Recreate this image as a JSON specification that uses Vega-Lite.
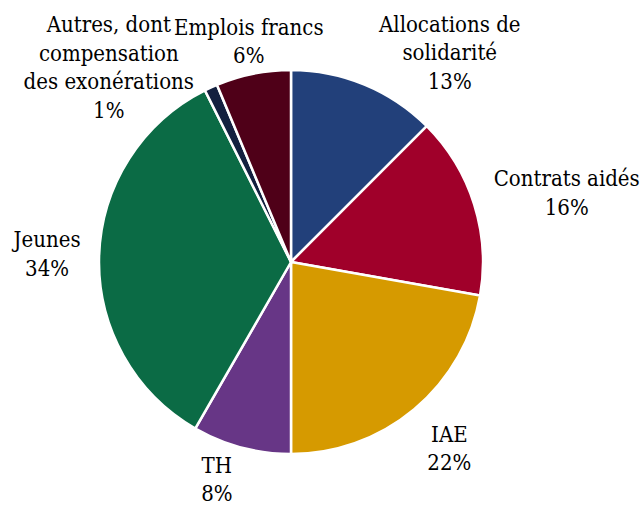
{
  "$schema": "https://vega.github.io/schema/vega-lite/v6.json",
  "autosize": "none",
  "width": 582,
  "height": 490,
  "padding": {"left": 0, "top": 17, "right": 60, "bottom": 0},
  "background": "white",
  "config": {"view": {"stroke": null}, "text": {"font": "DejaVu Serif Condensed", "fontSize": 22, "lineBreak": "\n", "lineHeight": 28.5, "color": "#000", "baseline": "middle", "align": "center", "radius": 245}},
  "data": {
    "values": [
      {"cat": "Allocations de solidarité", "label": "Allocations de\nsolidarité\n13%", "value": 12.5, "order": 1},
      {"cat": "Contrats aidés", "label": "Contrats aidés\n16%", "value": 15.3, "order": 2},
      {"cat": "IAE", "label": "IAE\n22%", "value": 22.2, "order": 3},
      {"cat": "TH", "label": "TH\n8%", "value": 8.3, "order": 4},
      {"cat": "Jeunes", "label": "Jeunes\n34%", "value": 34.3, "order": 5},
      {"cat": "Autres", "label": "Autres, dont\ncompensation\ndes exonérations\n1%", "value": 1.1, "order": 6},
      {"cat": "Emplois francs", "label": "Emplois francs\n6%", "value": 6.3, "order": 7}
    ]
  },
  "transform": [
    {"stack": "value", "groupby": [], "sort": [{"field": "order"}], "as": ["v0", "v1"]},
    {"calculate": "(datum.v0 + datum.v1) / 2", "as": "mid"}
  ],
  "layer": [
    {
      "mark": {"type": "arc", "outerRadius": 192, "stroke": "white", "strokeWidth": 2.5},
      "encoding": {
        "theta": {"field": "v0", "type": "quantitative", "scale": {"domain": [0, 100]}, "stack": null},
        "theta2": {"field": "v1"},
        "color": {
          "field": "cat", "type": "nominal", "legend": null,
          "scale": {
            "domain": ["Allocations de solidarité", "Contrats aidés", "IAE", "TH", "Jeunes", "Autres", "Emplois francs"],
            "range": ["#22407A", "#A0002A", "#D69A00", "#673686", "#0B6B45", "#13203F", "#4F0018"]
          }
        }
      }
    },
    {
      "transform": [{"filter": "datum.cat == 'IAE' || datum.cat == 'Jeunes'"}],
      "mark": {"type": "text", "dx": 1, "dy": -15},
      "encoding": {"theta": {"field": "mid", "type": "quantitative", "stack": null}, "text": {"field": "label"}}
    },
    {
      "transform": [{"filter": "datum.cat == 'Contrats aidés'"}],
      "mark": {"type": "text", "dx": 42, "dy": -9},
      "encoding": {"theta": {"field": "mid", "type": "quantitative", "stack": null}, "text": {"field": "label"}}
    },
    {
      "transform": [{"filter": "datum.cat == 'Allocations de solidarité'"}],
      "mark": {"type": "text", "dx": 65, "dy": -11},
      "encoding": {"theta": {"field": "mid", "type": "quantitative", "stack": null}, "text": {"field": "label"}}
    },
    {
      "transform": [{"filter": "datum.cat == 'TH'"}],
      "mark": {"type": "text", "dx": -11, "dy": -33},
      "encoding": {"theta": {"field": "mid", "type": "quantitative", "stack": null}, "text": {"field": "label"}}
    },
    {
      "transform": [{"filter": "datum.cat == 'Autres'"}],
      "mark": {"type": "text", "dx": -80, "dy": -14},
      "encoding": {"theta": {"field": "mid", "type": "quantitative", "stack": null}, "text": {"field": "label"}}
    },
    {
      "transform": [{"filter": "datum.cat == 'Emplois francs'"}],
      "mark": {"type": "text", "dx": 6, "dy": 6},
      "encoding": {"theta": {"field": "mid", "type": "quantitative", "stack": null}, "text": {"field": "label"}}
    }
  ]
}
